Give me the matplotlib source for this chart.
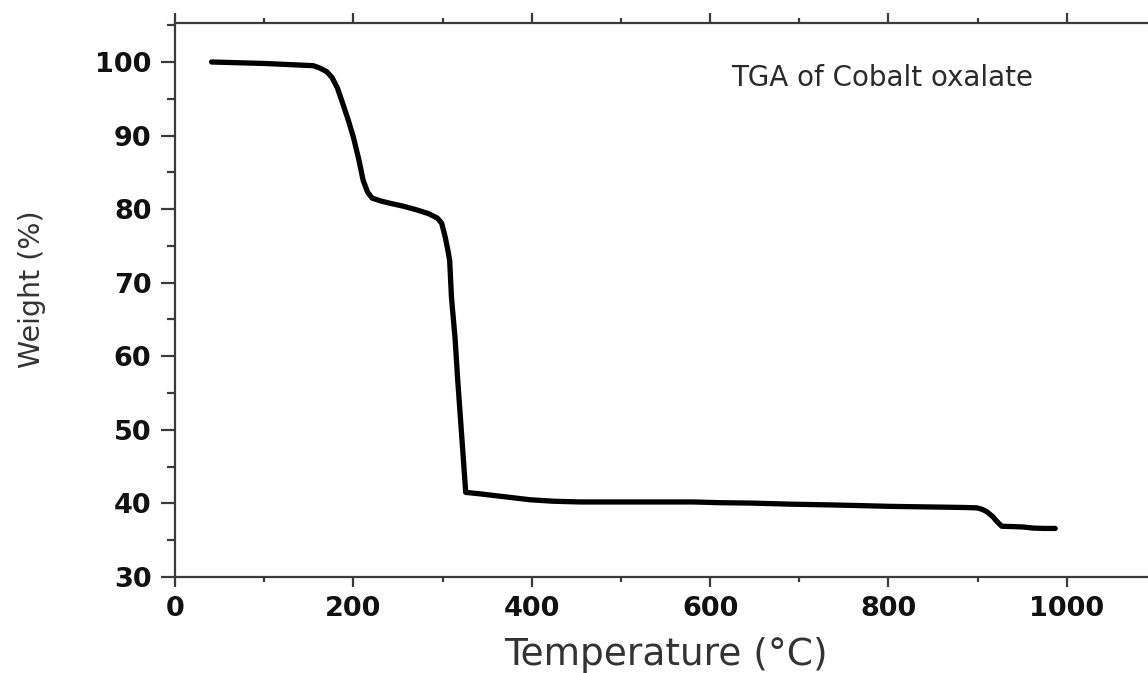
import matplotlib
matplotlib.use("Agg")
import matplotlib.pyplot as plt
from matplotlib.ticker import MultipleLocator

# Temperature (°C) and weight (%)
temperature = [41, 100, 155, 162, 170, 176, 182, 188, 194, 200, 206, 211, 216, 221,
               231, 241, 256, 271, 284, 294, 299, 303, 306, 308, 310, 314, 317,
               321, 325, 326, 334, 342, 370, 398, 424, 454, 520, 581, 611, 645,
               690, 734, 770, 802, 830, 858, 885, 899, 905, 910, 917, 922, 927,
               940, 951, 962, 975, 987]
weight = [100.0, 99.8, 99.5, 99.2, 98.7, 97.9, 96.5, 94.4, 92.2, 89.8, 86.8, 83.9,
          82.3, 81.5, 81.1, 80.8, 80.4, 79.9, 79.4, 78.8, 78.1, 76.2, 74.4, 73.0,
          68.0, 62.5, 56.8, 50.0, 43.2, 41.5, 41.4, 41.3, 40.9, 40.5, 40.3, 40.2,
          40.2, 40.2, 40.1, 40.05, 39.9, 39.8, 39.7, 39.6, 39.55, 39.5, 39.45,
          39.4, 39.2, 38.9, 38.2, 37.5, 36.9, 36.85, 36.8, 36.65, 36.6, 36.6]

x_ticks = [0, 200, 400, 600, 800, 1000]
y_ticks = [30, 40, 50, 60, 70, 80, 90, 100]

fig = plt.figure(figsize=(11.48, 6.73), dpi=100)
ax = fig.add_axes([175 / 1148, 96 / 673, 981 / 1148, 554 / 673])

ax.plot(temperature, weight, color="black", lw=3.8, solid_capstyle="round",
        solid_joinstyle="round")

ax.set_xlim(0, 1100)
ax.set_ylim(30, 105.3)
ax.set_xticks(x_ticks)
ax.set_yticks(y_ticks)
ax.xaxis.set_minor_locator(MultipleLocator(100))
ax.yaxis.set_minor_locator(MultipleLocator(5))

spine_col = "#3a3a3a"
for s in ["left", "bottom", "top"]:
    ax.spines[s].set_color(spine_col)
    ax.spines[s].set_linewidth(1.6)
ax.spines["right"].set_visible(False)

ax.tick_params(axis="x", which="major", direction="out", length=7, width=1.6,
               color=spine_col, top=True, pad=7)
ax.tick_params(axis="x", which="minor", direction="out", length=3.5, width=1.6,
               color=spine_col, top=True)
ax.tick_params(axis="y", which="major", direction="out", length=10, width=1.6,
               color=spine_col, pad=7)
ax.tick_params(axis="y", which="minor", direction="out", length=6, width=1.6,
               color=spine_col)

for lab in ax.get_xticklabels() + ax.get_yticklabels():
    lab.set_fontfamily("DejaVu Sans")
    lab.set_fontweight("bold")
    lab.set_fontsize(19.5)
    lab.set_color("#111111")

ax.set_xlabel("Temperature (°C)", fontsize=27, color="#333333", family="DejaVu Sans")
ax.set_ylabel("Weight (%)", fontsize=20.5, color="#333333", family="DejaVu Sans")
ax.xaxis.set_label_coords(0.5, -0.109)
ax.yaxis.set_label_coords(-0.131, 0.52)

ax.text(624, 96.8, "TGA of Cobalt oxalate", fontsize=20, color="#2a2a2a",
        family="DejaVu Sans", ha="left", va="baseline")

fig.savefig("out.png", dpi=100)
